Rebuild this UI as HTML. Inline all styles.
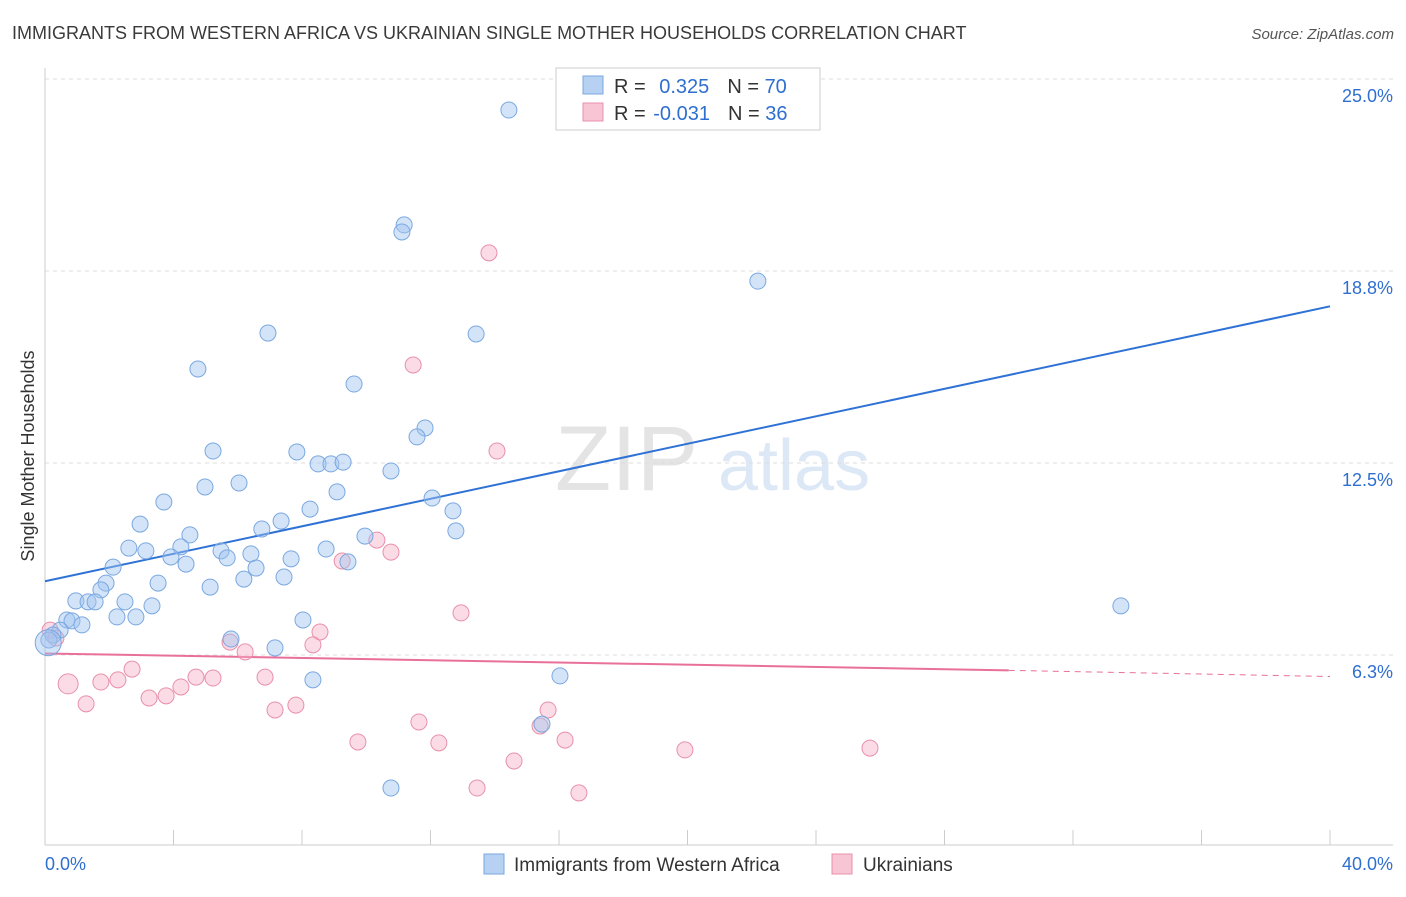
<!DOCTYPE html>
<html><head><meta charset="utf-8"><style>
body{margin:0;background:#fff;font-family:"Liberation Sans",sans-serif;}
svg text{font-family:"Liberation Sans",sans-serif;}
</style></head><body>
<svg id="chart" width="1406" height="892" xmlns="http://www.w3.org/2000/svg">
<text x="12" y="39" font-size="18" fill="#3a3a3a">IMMIGRANTS FROM WESTERN AFRICA VS UKRAINIAN SINGLE MOTHER HOUSEHOLDS CORRELATION CHART</text>
<text x="1394" y="39" font-size="15" fill="#555" text-anchor="end" font-style="italic">Source: ZipAtlas.com</text>
<text x="555" y="490" font-size="92" fill="#e4e4e4" font-family="Liberation Serif">ZIP</text>
<text x="718" y="490" font-size="72" fill="#dce8f5">atlas</text>
<g id="grid"></g>
<g id="axes"></g>
<text transform="translate(34,456) rotate(-90)" font-size="18" fill="#333" text-anchor="middle">Single Mother Households</text>
<g id="trends"></g>
<g id="points"></g>
<g>
<rect x="556" y="68" width="264" height="62" fill="#fff" stroke="#ccc"/>
<rect x="583" y="76" width="20" height="18" fill="#b7d1f3" stroke="#7aa8e0"/>
<rect x="583" y="103" width="20" height="18" fill="#f8c5d5" stroke="#e890aa"/>
<text x="614" y="93" font-size="20" fill="#333">R = <tspan fill="#2f6fd0" dx="8">0.325</tspan><tspan dx="18" fill="#333">N = </tspan><tspan fill="#2f6fd0">70</tspan></text>
<text x="614" y="120" font-size="20" fill="#333">R = <tspan fill="#2f6fd0" dx="2">-0.031</tspan><tspan dx="18" fill="#333">N = </tspan><tspan fill="#2f6fd0">36</tspan></text>
</g>
<g>
<rect x="484" y="854" width="20" height="20" fill="#b7d1f3" stroke="#7aa8e0"/>
<text x="514" y="871" font-size="19" fill="#333">Immigrants from Western Africa</text>
<rect x="832" y="854" width="20" height="20" fill="#f8c5d5" stroke="#e890aa"/>
<text x="863" y="871" font-size="19" fill="#333">Ukrainians</text>
</g>
</svg>
<script>
const blueX=[14.44,11.18,11.11,22.19,6.94,13.42,4.76,9.62,11.83,11.58,5.23,7.84,8.50,8.90,9.28,10.77,4.98,6.04,3.70,9.09,12.05,8.25,12.70,7.35,2.96,6.75,4.51,12.79,9.96,2.61,3.14,4.23,5.48,3.92,6.41,8.75,5.67,4.39,2.12,7.66,6.57,9.43,3.52,6.19,7.44,1.90,5.14,1.74,2.49,0.96,1.34,1.56,3.33,2.24,2.83,8.03,0.68,0.84,1.15,0.47,0.25,0.12,5.79,7.16,16.03,8.34,33.49,15.47,10.77,0.1];
const blueY=[23.99,20.25,20.02,18.42,16.73,16.70,15.56,15.07,13.64,13.35,12.89,12.86,12.47,12.47,12.53,12.24,11.72,11.85,11.23,11.56,11.36,11.00,10.94,10.61,10.51,10.35,10.16,10.29,10.12,9.73,9.64,9.77,9.64,9.44,9.54,9.70,9.41,9.21,9.11,9.38,9.08,9.28,8.59,8.72,8.79,8.59,8.46,8.37,7.98,8.01,7.98,7.98,7.85,7.49,7.49,7.39,7.39,7.36,7.23,7.06,6.90,6.74,6.77,6.48,5.57,5.44,7.85,4.00,1.92,6.65];
const pinkX=[13.82,11.46,14.07,10.33,10.77,9.25,12.95,8.56,8.34,0.16,0.34,5.76,6.23,2.71,1.74,2.27,0.72,4.70,5.23,4.23,6.85,3.24,3.77,1.28,7.16,7.81,15.66,11.64,15.41,9.74,12.26,16.19,19.92,25.68,14.60,13.45,16.62];
const pinkY=[19.34,15.69,12.89,9.99,9.60,9.31,7.62,7.00,6.58,7.06,6.80,6.67,6.35,5.79,5.37,5.44,5.31,5.53,5.50,5.21,5.53,4.85,4.92,4.66,4.46,4.62,4.46,4.07,3.94,3.42,3.39,3.48,3.16,3.22,2.80,1.92,1.76];
const yTicks=[6.25,12.5,18.75,25];
const yTickLabels=["6.3%","12.5%","18.8%","25.0%"];
const xTicks=[0,4,8,12,16,20,24,28,32,36,40];
const blueTrend=[[0,8.65],[40,17.6]];
const pinkTrend=[[0,6.3],[30,5.75],[40,5.55]];
const NS="http://www.w3.org/2000/svg";
const X=v=>45+v*32.125, Y=v=>847-v*30.72;
function mk(t,a,p){const e=document.createElementNS(NS,t);for(const k in a)e.setAttribute(k,a[k]);p.appendChild(e);return e;}
const grid=document.getElementById('grid'),axes=document.getElementById('axes');
yTicks.forEach((v,i)=>{
 const l=mk('line',{x1:45,x2:1393,y1:Y(v),y2:Y(v),stroke:'#ddd','stroke-dasharray':'4,4'},grid);
 
 
 const t=mk('text',{x:1393,y:Y(v)+23,'font-size':18,fill:'#2f6fd0','text-anchor':'end'},axes);
 t.textContent=yTickLabels[i];
 
 
});
const ax=mk('line',{x1:45,x2:1393,y1:845,y2:845,stroke:'#ccc'},axes);


const ay=mk('line',{x1:45,x2:45,y1:68,y2:845,stroke:'#ccc'},axes);


xTicks.forEach(v=>{const t=mk('line',{x1:X(v),x2:X(v),y1:830,y2:845,stroke:'#ccc'},axes);
 
 });
const xl0=mk('text',{x:45,y:870,'font-size':18,fill:'#2f6fd0'},axes);xl0.textContent='0.0%';


const xl1=mk('text',{x:1393,y:870,'font-size':18,fill:'#2f6fd0','text-anchor':'end'},axes);xl1.textContent='40.0%';


const pts=document.getElementById('points');
pinkX.forEach((x,i)=>{const c=mk('circle',{cx:X(x),cy:Y(pinkY[i]),r:(i==16?10:8),fill:'rgba(246,178,200,0.45)',stroke:'#e890aa','stroke-width':1},pts);
 
 });
blueX.forEach((x,i)=>{const c=mk('circle',{cx:X(x),cy:Y(blueY[i]),r:(i==69?13:8),fill:'rgba(160,196,240,0.45)',stroke:'#7aa8e0','stroke-width':1},pts);
 
 });
const tr=document.getElementById('trends');
const bl=mk('line',{x1:X(blueTrend[0][0]),y1:Y(blueTrend[0][1]),x2:X(blueTrend[1][0]),y2:Y(blueTrend[1][1]),stroke:'#2f72d6','stroke-width':2},tr);


const pl=mk('line',{x1:X(pinkTrend[0][0]),y1:Y(pinkTrend[0][1]),x2:X(pinkTrend[1][0]),y2:Y(pinkTrend[1][1]),stroke:'#e8709a','stroke-width':2},tr);


const pd=mk('line',{x1:X(pinkTrend[1][0]),y1:Y(pinkTrend[1][1]),x2:X(pinkTrend[2][0]),y2:Y(pinkTrend[2][1]),stroke:'#e8709a','stroke-width':1,'stroke-dasharray':'6,5'},tr);


</script>
</body></html>
